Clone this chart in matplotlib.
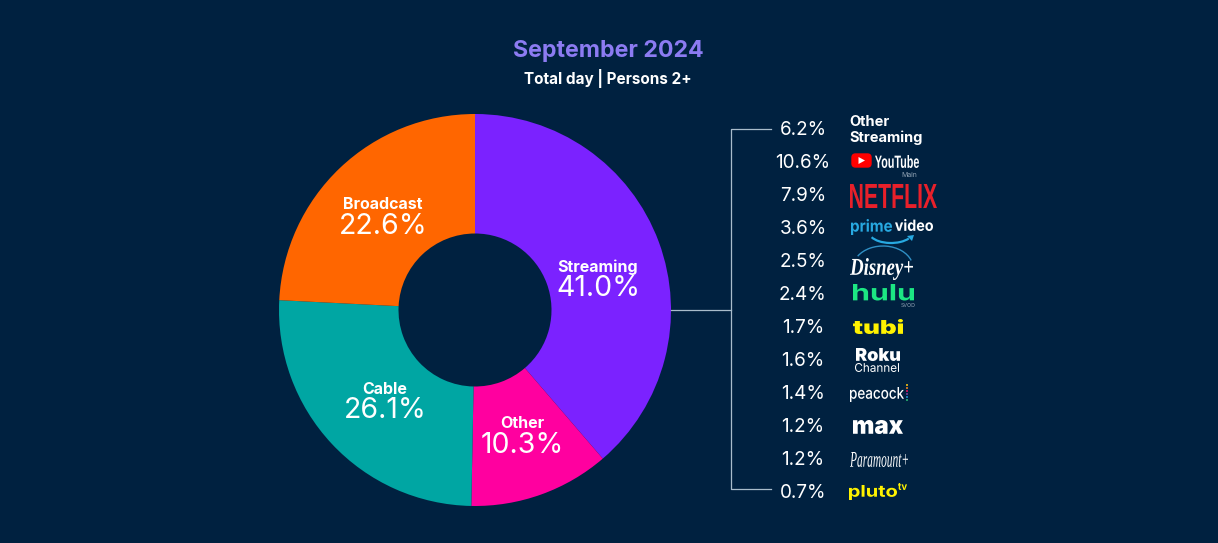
import matplotlib
matplotlib.use("Agg")
import matplotlib.pyplot as plt
from matplotlib.font_manager import FontProperties
from matplotlib.patches import Arc, Circle, FancyBboxPatch, Polygon
from matplotlib.patheffects import AbstractPathEffect
from matplotlib.textpath import TextPath
from matplotlib.transforms import Affine2D

# Dane
title = "September 2024"
subtitle = "Total day | Persons 2+"

categories = ["Streaming", "Other", "Cable", "Broadcast"]
share_labels = ["41.0%", "10.3%", "26.1%", "22.6%"]
# wedge sizes (they differ a bit from the printed labels)
wedge_sizes = [38.7, 11.6, 25.5, 24.2]
wedge_colors = ["#7B22FF", "#FF009F", "#00A6A3", "#FF6600"]

streaming_values = ["6.2%", "10.6%", "7.9%", "3.6%", "2.5%", "2.4%",
                    "1.7%", "1.6%", "1.4%", "1.2%", "1.2%", "0.7%"]

BG = "#002140"
LINE = "#A9BCCB"
W, H = 1218, 543

plt.rcParams["font.family"] = ["Inter", "DejaVu Sans"]


class Stretch(AbstractPathEffect):
    # squeezes a text sideways, logos are narrower or wider than the fonts we have
    def __init__(self, sx):
        super().__init__()
        self.sx = sx

    def draw_path(self, renderer, gc, tpath, affine, rgbFace=None):
        renderer.draw_path(gc, tpath, Affine2D().scale(self.sx, 1) + affine, rgbFace)


def logo(s, x0, y0, x1, y1, color, family="Inter", weight="bold", style="normal"):
    # fit the text into the box x0..x1, y0..y1 (pixels)
    fp = FontProperties(family=family, weight=weight, style=style)
    ext = TextPath((0, 0), s, size=10, prop=fp).get_extents()
    scale = (y1 - y0) / ext.height
    sx = (x1 - x0) / (ext.width * scale)
    t = ax.text(x0 - ext.x0 * scale * sx, y1 + ext.y0 * scale, s, color=color,
                fontsize=10 * scale * 0.72, family=family, fontweight=weight, style=style,
                ha="left", va="baseline")
    t.set_path_effects([Stretch(sx)])
    return t


fig = plt.figure(figsize=(W / 100, H / 100), dpi=100, facecolor=BG)

# donut
cx, cy, r = 475, 310, 196
pie_ax = fig.add_axes([(cx - r) / W, 1 - (cy + r) / H, 2 * r / W, 2 * r / H])
pie_ax.pie(wedge_sizes, colors=wedge_colors, startangle=90, counterclock=False,
           radius=1, wedgeprops={"width": 1 - 76.5 / 196})
pie_ax.set_xlim(-1, 1)
pie_ax.set_ylim(-1, 1)
pie_ax.axis("off")

# everything else in pixel coordinates
ax = fig.add_axes([0, 0, 1, 1], facecolor="none")
ax.set_xlim(0, W)
ax.set_ylim(H, 0)
ax.axis("off")

ax.text(608, 50.5, title, color="#8C7BF2", fontsize=16.7, fontweight="bold", ha="center", va="center")
ax.text(608, 79, subtitle, color="white", fontsize=11, fontweight="bold", ha="center", va="center")

label_pos = [(598, 267), (522, 424), (385, 389), (383, 204.5)]
for name, val, (x, y) in zip(categories, share_labels, label_pos):
    ax.text(x, y, name, color="white", fontsize=11.5, fontweight="bold", ha="center", va="center")
    ax.text(x, y + 21.5, val, color="white", fontsize=20.5, ha="center", va="center")

# leader lines
ax.plot([671, 731], [310, 310], color=LINE, lw=0.9)
ax.plot([771, 731, 731, 771], [129, 129, 489, 489], color=LINE, lw=0.9)

row_y = [130 + 33 * i for i in range(len(streaming_values))]
for val, y in zip(streaming_values, row_y):
    ax.text(803, y, val, color="white", fontsize=13.6, ha="center", va="center")

# logos
ax.text(849, 122, "Other", color="white", fontsize=10.5, fontweight="bold", va="center")
ax.text(849, 138, "Streaming", color="white", fontsize=10.5, fontweight="bold", va="center")

ax.add_patch(FancyBboxPatch((852, 154), 19, 13, boxstyle="round,pad=0,rounding_size=3.5",
                            fc="#FF0000", ec="#FF0000", lw=1))
ax.add_patch(Polygon([[858.5, 157], [858.5, 164], [865, 160.5]], fc="white", ec="none"))
logo("YouTube", 875, 155, 919, 168, "white", family="Liberation Sans")
ax.text(901, 175, "Main", color="#8FA1B3", fontsize=5, va="center")

logo("NETFLIX", 850, 184, 937, 208, "#E8202A", family="Liberation Sans")

logo("prime", 851, 219, 892, 235, "#27A9E1")
logo("video", 895, 219, 933, 231, "white")
ax.add_patch(Arc((891, 232), 44, 22, theta1=20, theta2=165, color="#27A9E1", lw=1.6))
ax.add_patch(Polygon([[907, 236], [914, 235], [912, 241]], fc="#27A9E1", ec="none"))

logo("Disney+", 850, 258, 913, 280, "white", family="Liberation Serif", style="italic")
ax.add_patch(Arc((883, 268), 60, 44, theta1=205, theta2=345, color="#2F8FC4", lw=1))

logo("hulu", 853, 284, 914, 300.5, "#1CE783")
ax.text(901, 305.5, "SVOD", color="#8FA1B3", fontsize=3.8, va="center")

logo("tubi", 853, 319, 903, 334, "#FFF200", weight="black")

logo("Roku", 856, 348, 900, 361, "white", weight="black")
logo("Channel", 855, 363, 899, 372, "white", weight="normal")

logo("peacock", 850, 387, 904, 402, "white", weight="medium")
dot_colors = ["#F9C513", "#F58220", "#E0115F", "#7B3FA0", "#1F8FD6", "#2BB673"]
for i, c in enumerate(dot_colors):
    ax.add_patch(Circle((907, 385 + 3 * i), 1, fc=c, ec="none"))

logo("max", 853, 420, 903, 434, "white", weight="black")

logo("Paramount+", 850, 452, 908, 467, "white", family="Liberation Serif", weight="normal", style="italic")

logo("pluto", 849, 485, 897, 500, "#FFF200")
logo("tv", 898, 483, 907, 490, "#FFF200")

fig.savefig("out.png", dpi=100, facecolor=BG)
